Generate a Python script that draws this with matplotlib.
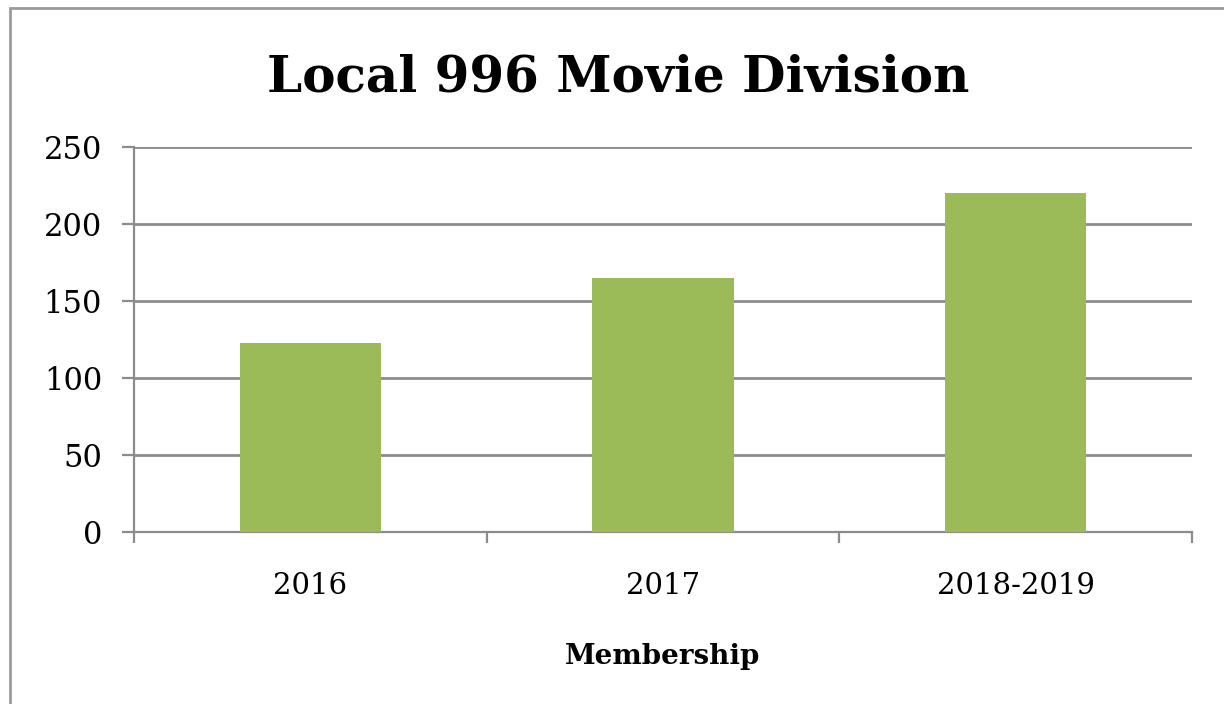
import matplotlib
matplotlib.use("Agg")
import matplotlib.pyplot as plt
from matplotlib.patches import Rectangle
import numpy as np

categories = ["2016", "2017", "2018-2019"]
values = [123, 165, 220]
yticks = [0, 50, 100, 150, 200, 250]
title = "Local 996 Movie Division"
xlabel = "Membership"

W, H = 1224, 704
fig = plt.figure(figsize=(W / 100, H / 100), dpi=100)
fig.patch.set_facecolor("white")

# outer chart border
fig.patches.append(Rectangle((10 / W, -0.05), 1.2, 1 - 8 / H + 0.05, transform=fig.transFigure,
                             fill=False, edgecolor="#9a9a9a", linewidth=2.0, zorder=0))

ax = fig.add_axes([134 / W, 1 - 532 / H, (1192 - 134) / W, (532 - 147) / H])
x = np.arange(len(categories))
ax.bar(x, values, width=0.4, color="#9BBB59", zorder=3)

ax.set_xlim(-0.5, len(categories) - 0.5)
ax.set_ylim(0, 250)
ax.set_yticks(yticks)
ax.yaxis.grid(True, color="#8c8c8c", linewidth=2.0, zorder=0)
ax.set_axisbelow(True)

ax.set_xticks(x)
ax.set_xticklabels(categories)
ax.set_xticks(np.arange(-0.5, len(categories), 1.0), minor=True)
ax.tick_params(axis="x", which="major", length=0, pad=29, labelsize=21)
ax.tick_params(axis="x", which="minor", length=8, width=1.6, color="#8c8c8c", direction="out")
ax.tick_params(axis="y", length=9, width=1.6, color="#8c8c8c", direction="out", pad=14, labelsize=22)

for lab in ax.get_xticklabels() + ax.get_yticklabels():
    lab.set_fontfamily("DejaVu Serif")

for s in ["top", "right"]:
    ax.spines[s].set_visible(False)
for s in ["left", "bottom"]:
    ax.spines[s].set_color("#8c8c8c")
    ax.spines[s].set_linewidth(1.6)

ax.set_xlabel(xlabel, fontfamily="DejaVu Serif", fontweight="bold", fontsize=20, labelpad=31)

fig.text(618 / W, 1 - 78 / H, title, ha="center", va="center",
         fontfamily="DejaVu Serif", fontweight="bold", fontsize=36)

fig.savefig("out.png", dpi=100, facecolor="white")
